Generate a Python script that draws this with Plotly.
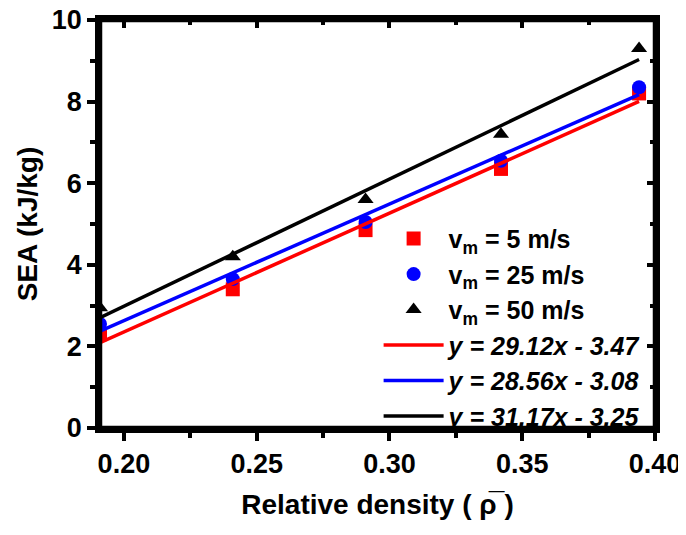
import plotly.graph_objects as go

rel_density = [0.191, 0.241, 0.291, 0.342, 0.394]
sea_5 = [2.3, 3.4, 4.85, 6.35, 8.2]
sea_25 = [2.55, 3.65, 5.05, 6.55, 8.35]
sea_50 = [2.95, 4.2, 5.6, 7.2, 9.3]

fits = [
    ("y = 29.12x - 3.47", 29.12, -3.47, "#ff0000"),
    ("y = 28.56x - 3.08", 28.56, -3.08, "#0000ff"),
    ("y = 31.17x - 3.25", 31.17, -3.25, "#000000"),
]
series = [
    ("v<sub>m</sub> = 5 m/s", sea_5, "square", "#ff0000"),
    ("v<sub>m</sub> = 25 m/s", sea_25, "circle", "#0000ff"),
    ("v<sub>m</sub> = 50 m/s", sea_50, "triangle-up", "#000000"),
]

fig = go.Figure()
for name, ys, sym, col in series:
    fig.add_trace(go.Scatter(x=rel_density, y=ys, mode="markers", name=name,
                             marker=dict(symbol=sym, size=14, color=col)))
for name, a, b, col in fits:
    xs = [rel_density[0], rel_density[-1]]
    fig.add_trace(go.Scatter(x=xs, y=[a * v + b for v in xs], mode="lines",
                             name="<i>" + name + "</i>",
                             line=dict(color=col, width=3.5)))

FAM = "Liberation Sans, Arial"
tickfont = dict(family=FAM, size=27, color="black", weight="bold")
xr = [0.191, 0.40]
yr = [0, 10]
common = dict(showline=True, linecolor="black", linewidth=4.5, showgrid=False,
              zeroline=False, ticklen=8, tickwidth=4, tickcolor="black",
              automargin=False, ticklabeloverflow="allow")
fig.update_layout(
    width=678, height=527,
    margin=dict(l=92, r=31, t=12, b=107),
    paper_bgcolor="white", plot_bgcolor="white",
    font=dict(family=FAM, size=21, color="black"),
    showlegend=True,
    legend=dict(x=0.502, y=0.52, xanchor="left", yanchor="top",
                bgcolor="rgba(0,0,0,0)",
                font=dict(size=25, family=FAM, weight="bold", color="black"),
                tracegroupgap=0, itemwidth=60),
    xaxis=dict(range=xr, tickmode="linear", tick0=0.20, dtick=0.05, tickformat=".2f",
               ticks="outside", tickfont=tickfont,
               minor=dict(tick0=0.225, dtick=0.05, ticklen=5, tickwidth=4,
                          tickcolor="black", ticks="outside", showgrid=False),
               title=dict(text="Relative density ( \u03c1\u0305 )",
                          font=dict(family=FAM, size=28, weight="bold"), standoff=18),
               **common),
    yaxis=dict(range=yr, tickmode="linear", tick0=0, dtick=2,
               ticks="outside", tickfont=tickfont,
               minor=dict(tick0=1, dtick=2, ticklen=5, tickwidth=4,
                          tickcolor="black", ticks="outside", showgrid=False),
               title=dict(text="SEA (kJ/kg)",
                          font=dict(family=FAM, size=28, weight="bold"), standoff=8),
               **common),
    xaxis2=dict(overlaying="x", side="top", anchor="y", range=xr,
                tickmode="linear", tick0=0.20, dtick=0.05, showticklabels=False,
                ticks="inside",
                minor=dict(tick0=0.225, dtick=0.05, ticklen=5, tickwidth=4,
                           tickcolor="black", ticks="inside", showgrid=False),
                **common),
    yaxis2=dict(overlaying="y", side="right", anchor="x", range=yr,
                tickmode="linear", tick0=0, dtick=2, showticklabels=False,
                ticks="inside",
                minor=dict(tick0=1, dtick=2, ticklen=5, tickwidth=4,
                           tickcolor="black", ticks="inside", showgrid=False),
                **common),
)
fig.add_trace(go.Scatter(x=[0.3], y=[5], xaxis="x2", yaxis="y2", mode="markers",
                         marker=dict(opacity=0), showlegend=False, hoverinfo="skip"))
# plot frame
fig.add_shape(type="rect", xref="paper", yref="paper", x0=0, y0=0, x1=1, y1=1,
              line=dict(color="black", width=4.5), layer="above")
fig.write_html("out.html")
